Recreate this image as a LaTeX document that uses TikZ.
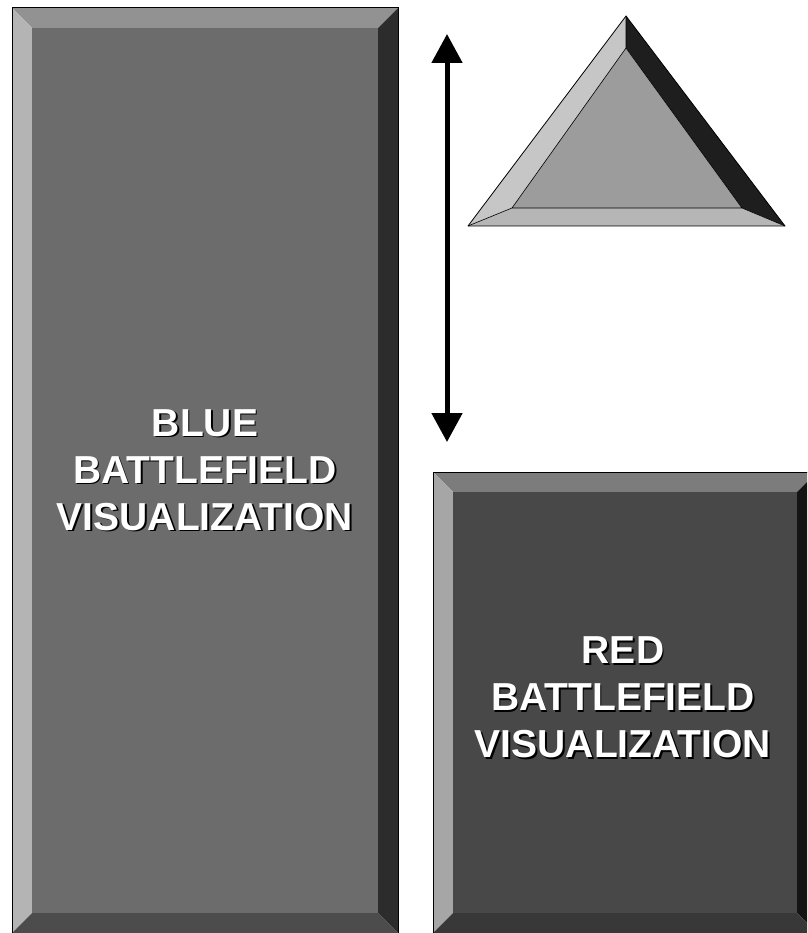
\documentclass[tikz,border=0pt]{standalone}
\usepackage{fontspec}
\setmainfont{Liberation Sans}
\usetikzlibrary{arrows.meta}
\definecolor{bvFace}  {HTML}{6C6C6C}
\definecolor{bvTop}   {HTML}{929292}
\definecolor{bvLeft}  {HTML}{B4B4B4}
\definecolor{bvRight} {HTML}{2C2C2C}
\definecolor{bvBottom}{HTML}{4C4C4C}
\definecolor{rvFace}  {HTML}{484848}
\definecolor{rvTop}   {HTML}{7C7C7C}
\definecolor{rvLeft}  {HTML}{A6A6A6}
\definecolor{rvRight} {HTML}{141414}
\definecolor{rvBottom}{HTML}{383838}
\definecolor{triFace} {HTML}{9C9C9C}
\definecolor{triLight}{HTML}{C6C6C6}
\definecolor{triDark} {HTML}{1E1E1E}
\newcommand{\bevelbox}[9]{%
  % #1-#4 outer l,t,r,b; #5 bevel; #6 face, #7 top, #8 left, #9 right
  \fill[#7] (#1,#2) -- (#3,#2) -- (#3-#5,#2+#5) -- (#1+#5,#2+#5) -- cycle;
  \fill[#8] (#1,#2) -- (#1+#5,#2+#5) -- (#1+#5,#4-#5) -- (#1,#4) -- cycle;
  \fill[#9] (#3,#2) -- (#3,#4) -- (#3-#5,#4-#5) -- (#3-#5,#2+#5) -- cycle;
  \fill[#6] (#1+#5,#2+#5) rectangle (#3-#5,#4-#5);}

\begin{document}
\begin{tikzpicture}[x=1pt,y=-1pt,
      lbl/.style={align=center,text=white,inner sep=0pt,
                  font=\bfseries\fontsize{39}{47}\selectfont},
      shadow/.style={lbl,text=black}]
    \useasboundingbox (0,0) rectangle (807,933);
    \clip (0,0) rectangle (807,933);
    % blue panel
    \bevelbox{12}{8}{398}{933}{20}{bvFace}{bvTop}{bvLeft}{bvRight}
    \fill[bvBottom] (12,933) -- (32,913) -- (378,913) -- (398,933) -- cycle;
    \draw[black,line width=1pt] (12,8) rectangle (398,933);
    % red panel
    \bevelbox{433}{472}{817}{933}{20}{rvFace}{rvTop}{rvLeft}{rvRight}
    \fill[rvBottom] (433,933) -- (453,913) -- (797,913) -- (817,933) -- cycle;
    \draw[black,line width=1pt] (433,472) rectangle (817,933);
    % triangle
    \fill[triLight] (626,16) -- (626,48) -- (512,208) -- (468,226) -- cycle;
    \fill[triDark]  (626,16) -- (785,226) -- (742,208) -- (626,48) -- cycle;
    \fill[triLight!92!black] (468,226) -- (512,208) -- (742,208) -- (785,226) -- cycle;
    \fill[triFace]  (626,48) -- (742,208) -- (512,208) -- cycle;
    \draw[line width=0.8pt,line join=round] (626,16) -- (785,226) -- (468,226) -- cycle;
    \draw[line width=0.6pt] (626,16) -- (626,48) (468,226) -- (512,208)
       (785,226) -- (742,208) (626,48) -- (742,208) -- (512,208) -- cycle;
    % labels
    \node[shadow] (blueShadow) at (206.5,471.5) {BLUE\\BATTLEFIELD\\VISUALIZATION};
    \node[lbl] (blueLabel) at (205,470) {BLUE\\BATTLEFIELD\\VISUALIZATION};
    \node[shadow] (redShadow) at (624.5,699) {RED\\BATTLEFIELD\\VISUALIZATION};
    \node[lbl] (redLabel) at (623,697.5) {RED\\BATTLEFIELD\\VISUALIZATION};
    % two-way arrow
    \coordinate (arrTop) at (447,34);
    \coordinate (arrBot) at (447,442);
    \draw[line width=5pt,{Triangle[length=29pt,width=30pt]}-{Triangle[length=29pt,width=30pt]}]
       (arrTop) -- (arrBot);
  \end{tikzpicture}
\end{document}
